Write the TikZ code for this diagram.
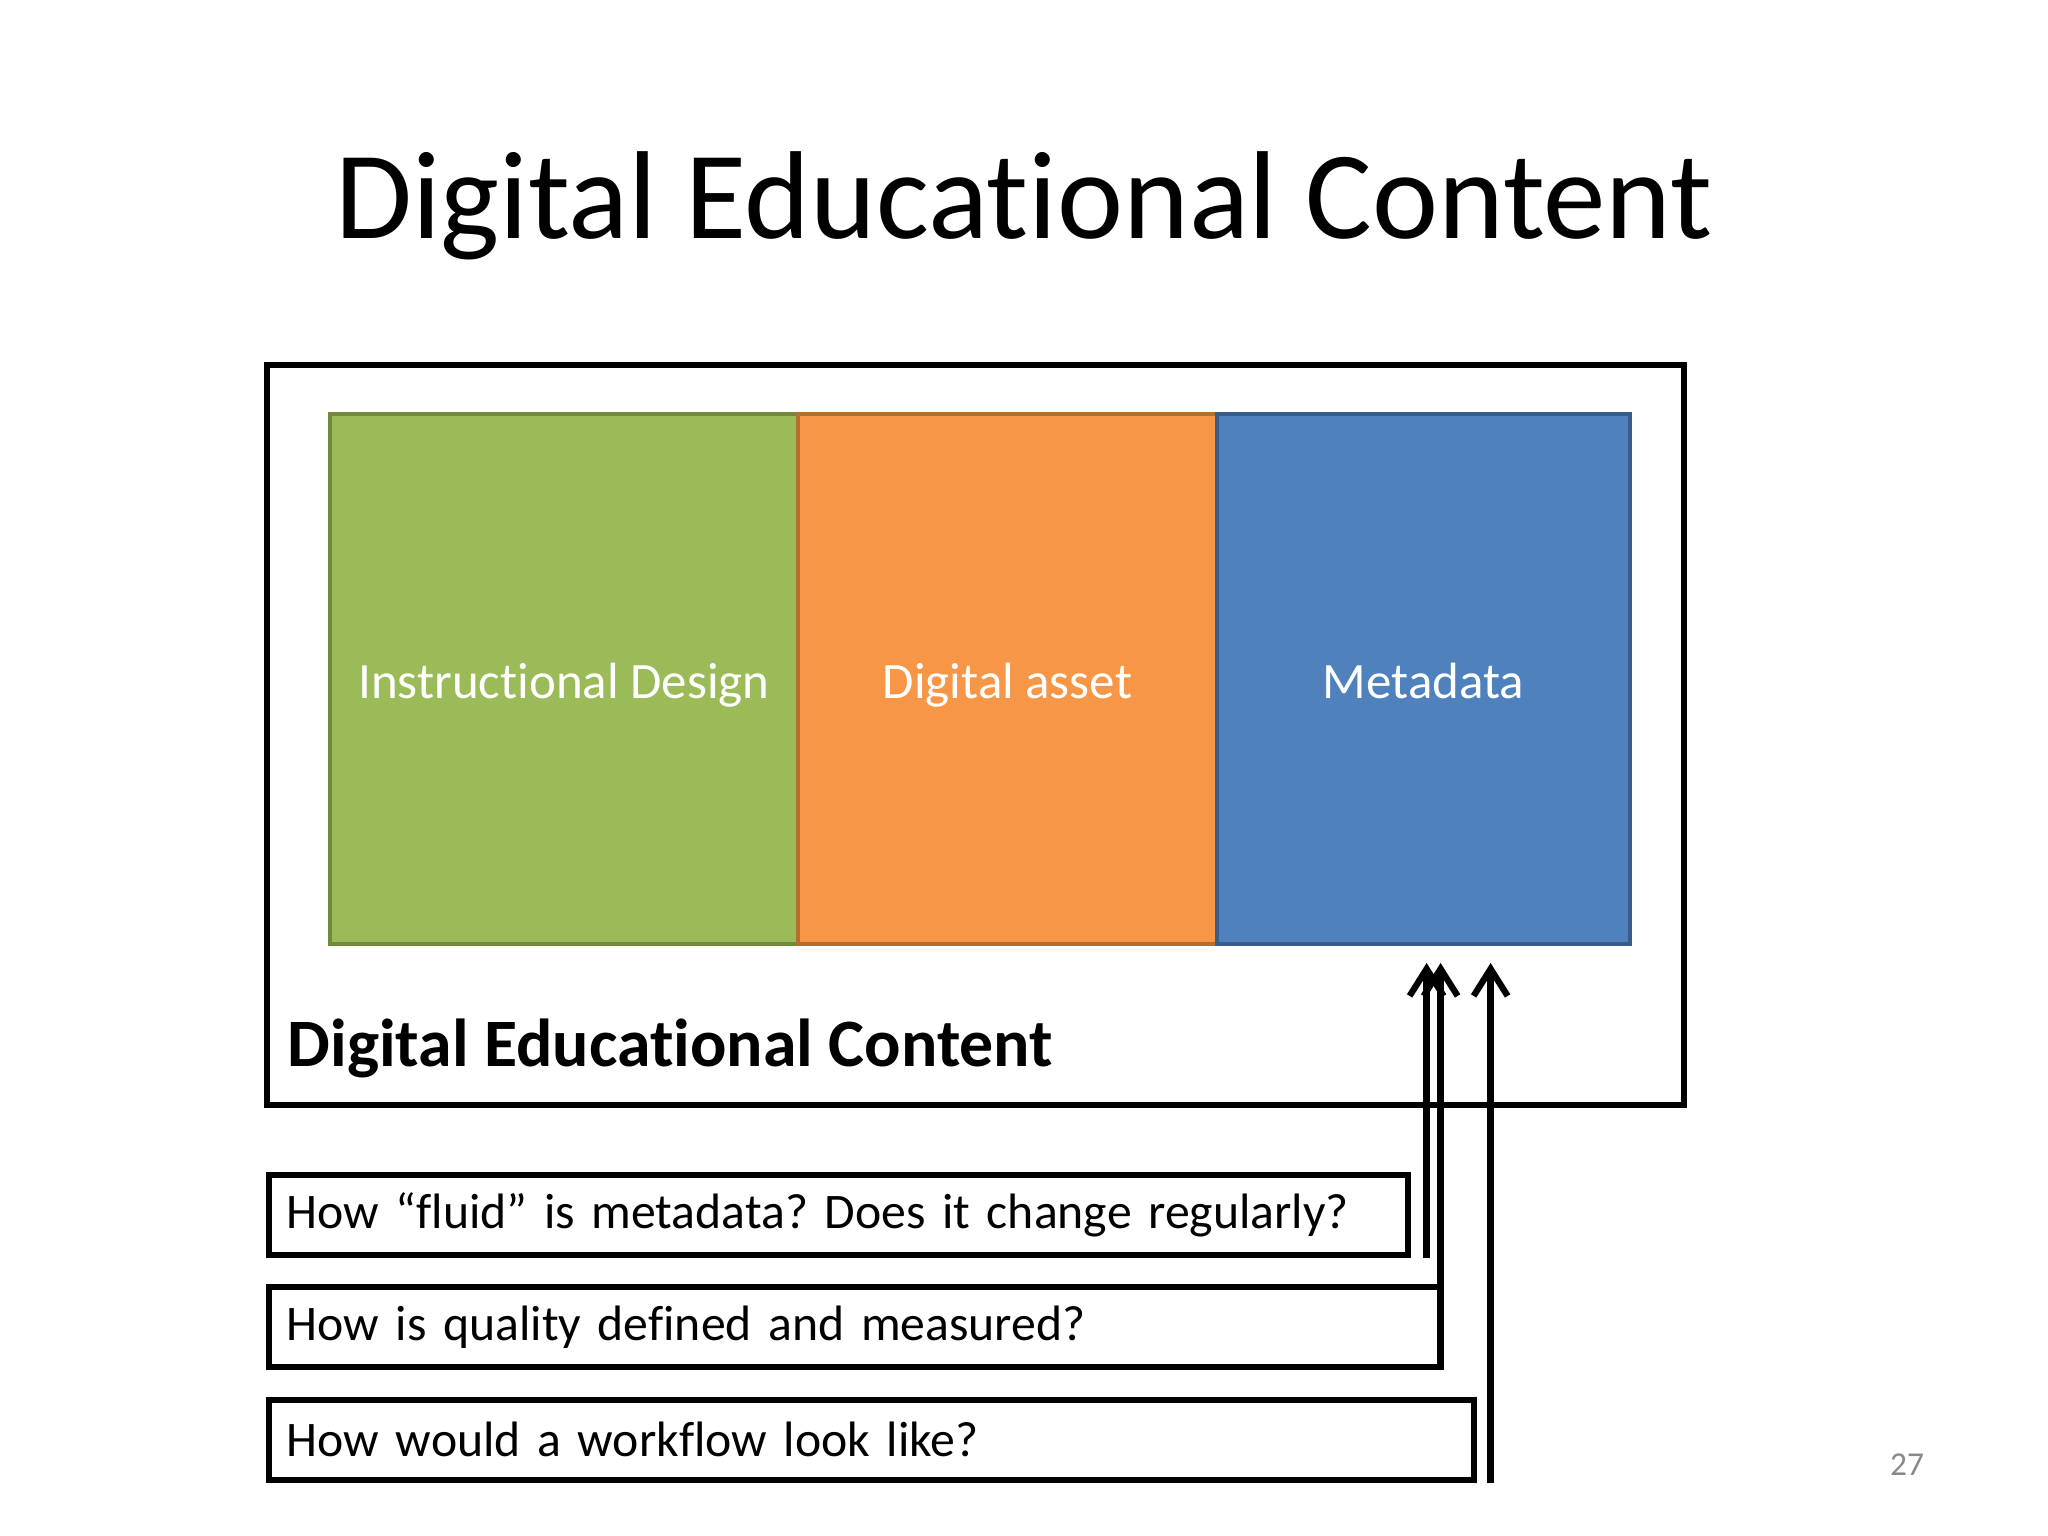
\documentclass[tikz,border=0pt]{standalone}
\usepackage{fontspec}
\setmainfont{Carlito}[Ligatures=NoCommon]
\usepackage{tikz}
\usetikzlibrary{positioning,arrows.meta}
\definecolor{greenfill}{RGB}{155,187,89}
\definecolor{greenline}{RGB}{113,137,63}
\definecolor{orangefill}{RGB}{247,150,70}
\definecolor{orangeline}{RGB}{182,109,49}
\definecolor{bluefill}{RGB}{79,129,189}
\definecolor{blueline}{RGB}{56,93,138}
\definecolor{pagegray}{RGB}{137,137,137}
\frenchspacing
\tikzset{
  arrow/.style={-{Straight Barb[length=0.27cm, width=0.34cm]}, line width=1.8pt, draw=black},
  part/.style={
    rectangle,
    line width=1.1pt,
    minimum height=5.3cm,
    inner sep=0pt,
    outer sep=0pt,
    text height=0.4cm,
    text depth=0pt,
    text=white,
    font=\fontsize{14.5}{17}\selectfont
  },
  question/.style={
    draw=black,
    line width=1.6pt,
    rectangle,
    anchor=north west,
    minimum height=0.8cm,
    inner xsep=0.18cm,
    inner ysep=0pt,
    align=left,
    font=\fontsize{14.15}{17}\selectfont
  }
}

\begin{document}
\begin{tikzpicture}

\fill[white] (0,0) rectangle (20.48,-15.36);
\useasboundingbox (0,0) rectangle (20.48,-15.36);

% Title
\node[anchor=base, font=\fontsize{35.6}{40}\selectfont] (title) at (10.24,-2.39) {Digital Educational Content};

% Frame
\node[draw=black, line width=1.6pt, minimum width=14.17cm, minimum height=7.40cm] (frame) at (9.755,-7.35) {};

% Parts
\node[part, fill=greenfill, draw=greenline, minimum width=4.68cm, anchor=north west] (design) at (3.30,-4.14) {Instructional Design};
\node[part, fill=orangefill, draw=orangeline, minimum width=4.19cm, right=0cm of design] (asset) {Digital asset};
\node[part, fill=bluefill, draw=blueline, minimum width=4.13cm, right=0cm of asset] (meta) {Metadata};

\node[anchor=base west, inner sep=0pt, font=\bfseries\fontsize{19.3}{22}\selectfont] (contentlabel) at (2.87,-10.66) {Digital Educational Content};

% Questions
\node[question, text width=11.03cm] (qa) at (2.66,-11.72) {How “fluid” is metadata? Does it change regularly?};
\node[question, text width=11.36cm] (qb) at (2.66,-12.84) {How is quality defined and measured?};
\node[question, text width=11.69cm] (qc) at (2.66,-13.97) {How would a workflow look like?};

% Arrows to metadata
\coordinate (fa) at ([xshift=0.16cm]qa.south east);
\coordinate (fb) at ([xshift=-0.03cm]qb.south east);
\coordinate (fc) at ([xshift=0.14cm]qc.south east);

\draw[arrow, shorten >=0.19cm] (fa) -- (fa |- meta.south);
\draw[arrow, shorten >=0.19cm] (fb) -- (fb |- meta.south);
\draw[arrow, shorten >=0.19cm] (fc) -- (fc |- meta.south);

% Page number
\node[text=pagegray, font=\fontsize{9.5}{11}\selectfont] (pagenum) at (19.07,-14.65) {27};

\end{tikzpicture}
\end{document}
